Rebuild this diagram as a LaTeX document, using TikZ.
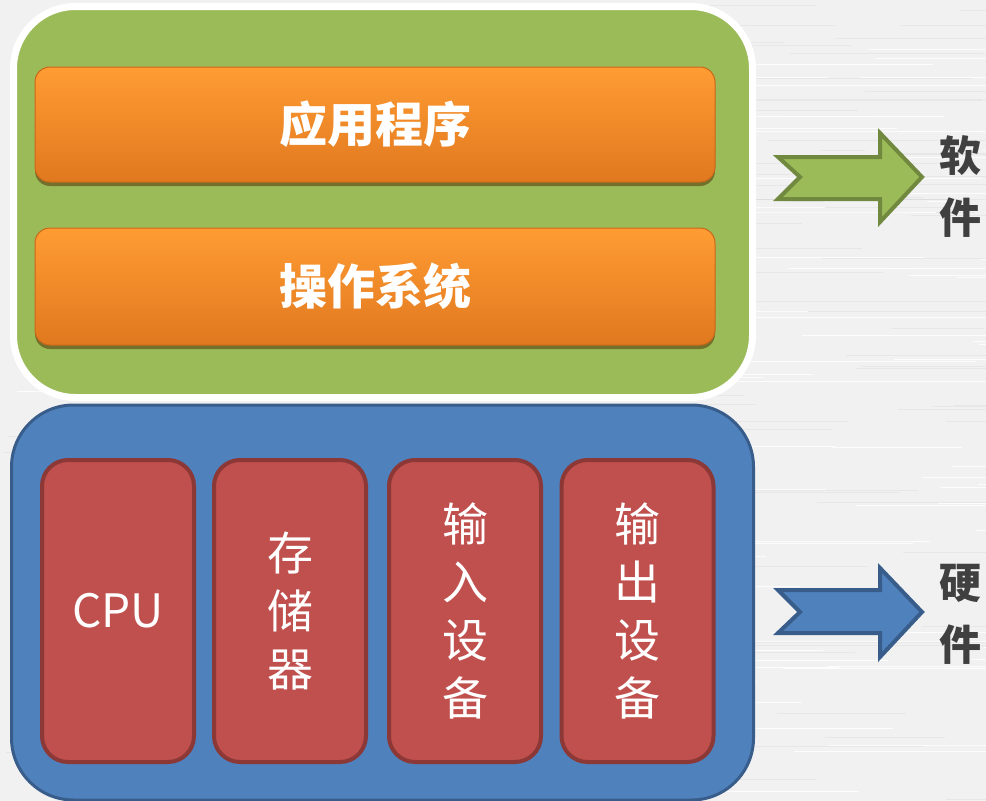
\documentclass[tikz,border=0pt]{standalone}
\usepackage{fontspec}
\newfontfamily\cjk{Noto Sans CJK SC}
\usetikzlibrary{shadows}
\definecolor{bgc}{HTML}{F1F1F1}
\definecolor{grn}{HTML}{9BBB59}
\definecolor{grnd}{HTML}{71893F}
\definecolor{blu}{HTML}{4F81BD}
\definecolor{blud}{HTML}{385D8A}
\definecolor{redf}{HTML}{C0504D}
\definecolor{redd}{HTML}{8C3836}
\definecolor{orat}{HTML}{FF9C33}
\definecolor{orab}{HTML}{E0781F}
\definecolor{orad}{HTML}{C9681A}
\definecolor{txtd}{HTML}{404040}
\tikzset{
  panel/.style={rectangle, rounded corners=62pt, inner sep=0pt},
  swpanel/.style={panel, fill=grn, draw=white, line width=7pt,
     drop shadow={shadow xshift=2pt, shadow yshift=-2pt, opacity=0.25}},
  hwpanel/.style={panel, fill=blu, draw=blud, line width=3pt},
  orabar/.style={rectangle, rounded corners=15pt, inner sep=0pt,
     minimum width=680pt, top color=orat, bottom color=orab, draw=orad, line width=1pt,
     drop shadow={shadow xshift=0pt, shadow yshift=-4pt, opacity=0.5, fill=black!70!orange},
     text=white, font=\cjk\bfseries\fontsize{48}{54}\selectfont},
  redbox/.style={rectangle, rounded corners=26pt, inner sep=0pt, fill=redf, draw=redd,
     line width=4pt, minimum width=152pt, minimum height=302pt, text=white, align=center,
     font=\cjk\fontsize{46}{58}\selectfont},
  sidelabel/.style={text=txtd, align=center, font=\cjk\bfseries\fontsize{42}{62}\selectfont},
  garrow/.style={fill=grn, draw=grnd, line width=4pt, line join=miter},
  barrow/.style={fill=blu, draw=blud, line width=4pt, line join=miter}
}
\begin{document}
\begin{tikzpicture}[x=1pt,y=-1pt]
\useasboundingbox (0,0) rectangle (986,801);
\fill[bgc] (0,0) rectangle (986,801);
\pgfmathsetseed{7}
\foreach \i in {1,...,260}{
  \pgfmathsetmacro{\yy}{rnd*801}
  \pgfmathsetmacro{\xa}{rnd*986}
  \pgfmathsetmacro{\ll}{80+rnd*300}
  \pgfmathsetmacro{\cc}{rnd}
  \ifdim\cc pt<0.5pt
    \draw[white, opacity=0.8, line width=1pt] (\xa,\yy) -- ++(\ll,0);
  \else
    \draw[black, opacity=0.04, line width=1pt] (\xa,\yy) -- ++(\ll,0);
  \fi
}
% software panel
\node[swpanel, minimum width=739pt, minimum height=391pt] (sw) at (383,202) {};
\node[orabar, minimum height=115pt] (app) at (375,124.5) {应用程序};
\node[orabar, minimum height=117pt] (os) at (375,286.5) {操作系统};
% hardware panel
\node[hwpanel, minimum width=742pt, minimum height=395pt] (hw) at (382.5,602.5) {};
\node[redbox] (cpu) at (118,611) {CPU};
\node[redbox] (mem) at (290,611) {存\\储\\器};
\node[redbox] (in) at (465,611) {输\\入\\设\\备};
\node[redbox] (out) at (637.5,611) {输\\出\\设\\备};
% arrows
\draw[garrow] (800,177) -- (778,157) -- (880,157) -- (880,133) -- (922,177)
   -- (880,222) -- (880,199) -- (778,199) -- cycle;
\draw[barrow] (800,612) -- (778,590) -- (880,590) -- (880,568) -- (922,612)
   -- (880,657) -- (880,633) -- (778,633) -- cycle;
\node[sidelabel] (soft) at (960,186) {软\\件};
\node[sidelabel] (hard) at (960,614) {硬\\件};
\end{tikzpicture}
\end{document}
